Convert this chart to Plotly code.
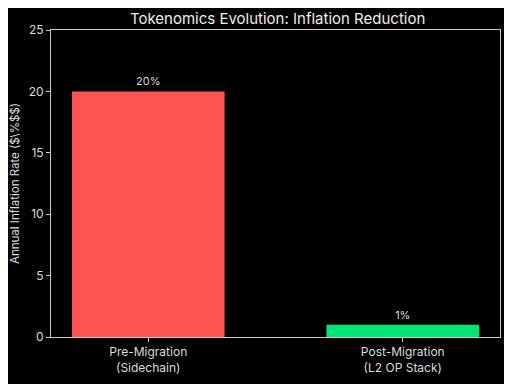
import plotly.graph_objects as go

categories = ["Pre-Migration<br>(Sidechain)", "Post-Migration<br>(L2 OP Stack)"]
values = [20, 1]
labels = ["20%", "1%"]
colors = ["#FF5252", "#00E676"]
yticks = [0, 5, 10, 15, 20, 25]

fig = go.Figure()
fig.add_trace(go.Bar(
    x=[0, 1], y=values, width=0.6,
    marker=dict(color=colors, line=dict(width=0)),
    text=labels, textposition="outside",
    textfont=dict(color="#dddddd", size=11),
    cliponaxis=False,
))

axcol = "#cccccc"
# page body has an 8px margin, so the figure is drawn 8px in from the top-left
fig.update_layout(
    width=504, height=376,
    paper_bgcolor="black", plot_bgcolor="black",
    font=dict(family="Inter, Roboto, sans-serif", color="#dddddd", size=12),
    margin=dict(l=43, r=12, t=22, b=47, autoexpand=False),
    showlegend=False,
    title=dict(text="Tokenomics Evolution: Inflation Reduction", x=0.535, xanchor="center",
               y=0.972, yanchor="middle", font=dict(size=15, color="#eeeeee")),
    xaxis=dict(range=[-0.382, 1.382], tickvals=[0, 1], ticktext=categories, automargin=False,
               showgrid=False, zeroline=False, showline=True, linecolor=axcol, linewidth=1,
               mirror=True, ticks="outside", ticklen=4, tickcolor=axcol,
               tickfont=dict(size=12, color="#dddddd")),
    yaxis=dict(range=[0, 25], tickvals=yticks, showgrid=False, zeroline=False, automargin=False,
               showline=True, linecolor=axcol, linewidth=1, mirror=True,
               ticks="outside", ticklen=4, tickcolor=axcol,
               tickfont=dict(size=12, color="#dddddd"),
               title=dict(text="Annual Inflation Rate ($\\%$$)", font=dict(size=11.5, color="#dddddd"),
                          standoff=8)),
    bargap=0.4,
)

fig.write_html("out.html")
